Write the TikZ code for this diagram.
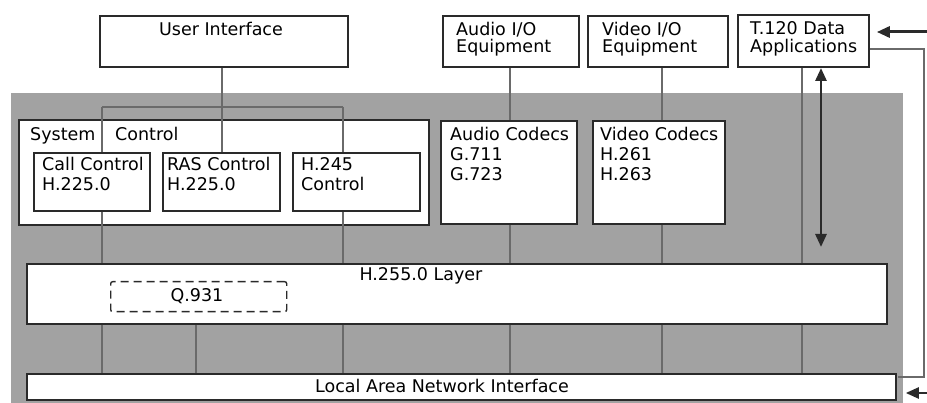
\documentclass[tikz,border=0pt]{standalone}
\usepackage{fontspec}
\setmainfont{DejaVu Sans}
\usetikzlibrary{arrows.meta}
\definecolor{bgray}{HTML}{A2A2A2}
\definecolor{edge}{HTML}{2A2A2A}
\definecolor{wire}{HTML}{6A6A6A}
\tikzset{
  x=1pt, y=-1pt,
  box/.style={draw=edge, line width=1.8pt, fill=white, inner sep=0pt, anchor=north west},
  dbox/.style={draw=edge, line width=1.4pt, dash pattern=on 8pt off 5pt, rounded corners=2pt, fill=white, inner sep=0pt, anchor=north west},
  txt/.style={inner sep=0pt, anchor=base west, align=left, font=\fontsize{17.5}{20}\selectfont},
  ctxt/.style={inner sep=0pt, anchor=base, font=\fontsize{17.5}{20}\selectfont},
  wireline/.style={draw=wire, line width=1.6pt},
  bigarrow/.style={draw=edge, line width=3pt, -{Triangle[length=13pt,width=11pt]}},
  dblarrow/.style={draw=edge, line width=2.8pt, {Triangle[length=13pt,width=11pt]}-{Triangle[length=13pt,width=11pt]}},
}
\newcommand{\boxat}[5]{\node[box, minimum width=#3-#1, minimum height=#4-#2] (#5) at (#1,#2) {};}
\begin{document}
\begin{tikzpicture}
\useasboundingbox (0,0) rectangle (927,403);
% shaded region
\node[fill=bgray, inner sep=0pt, anchor=north west, minimum width=892, minimum height=310] (shade) at (11,93) {};
% boxes
\boxat{99}{15}{347}{66}{ui}
\boxat{442}{15}{578}{66}{aio}
\boxat{587}{15}{727}{66}{vio}
\boxat{737}{14}{868}{66}{tdata}
\boxat{18}{119}{428}{224}{sys}
\boxat{33}{152}{149}{210}{call}
\boxat{162}{152}{279}{210}{ras}
\boxat{292}{152}{419}{210}{hctl}
\boxat{440}{120}{576}{223}{acod}
\boxat{592}{120}{724}{223}{vcod}
\boxat{26}{263}{886}{323}{layer}
\boxat{26}{373}{895}{399}{lan}
\node[dbox, minimum width=176, minimum height=30] (q) at (110,281) {};
% x positions of wires
\coordinate (xa) at (102,0);
\coordinate (xb) at (222,0);
\coordinate (xc) at (343,0);
\coordinate (xd) at (196,0);
\coordinate (xe) at (510,0);
\coordinate (xf) at (662,0);
\coordinate (xg) at (802,0);
\coordinate (bus) at (222,107);
\coordinate (busl) at (102,107);
\coordinate (busr) at (343,107);
\coordinate (dhi) at (821,68);
\coordinate (dlo) at (821,247);
\coordinate (rin) at (927,32);
\coordinate (rin2) at (927,393);
\coordinate (ret1) at (924,49);
\coordinate (ret2) at (924,377);
\coordinate (ret3) at (898,377);
% wires
\draw[wireline] (ui.south -| xb) -- (bus);
\draw[wireline] (busl) -- (busr);
\draw[wireline] (busl) -- (call.north -| xa);
\draw[wireline] (bus) -- (ras.north -| xb);
\draw[wireline] (busr) -- (hctl.north -| xc);
\draw[wireline] (call.south -| xa) -- (layer.north -| xa);
\draw[wireline] (hctl.south -| xc) -- (layer.north -| xc);
\draw[wireline] (layer.south -| xa) -- (lan.north -| xa);
\draw[wireline] (layer.south -| xd) -- (lan.north -| xd);
\draw[wireline] (layer.south -| xc) -- (lan.north -| xc);
\draw[wireline] (aio.south -| xe) -- (acod.north -| xe);
\draw[wireline] (acod.south -| xe) -- (layer.north -| xe);
\draw[wireline] (layer.south -| xe) -- (lan.north -| xe);
\draw[wireline] (vio.south -| xf) -- (vcod.north -| xf);
\draw[wireline] (vcod.south -| xf) -- (layer.north -| xf);
\draw[wireline] (layer.south -| xf) -- (lan.north -| xf);
\draw[wireline] (tdata.south -| xg) -- (layer.north -| xg);
\draw[wireline] (layer.south -| xg) -- (lan.north -| xg);
\draw[wireline] (tdata.east |- ret1) -- (ret1) -- (ret2) -- (ret3);
% arrows
\draw[dblarrow] (dhi) -- (dlo);
\draw[bigarrow] (rin) -- ([xshift=7pt]tdata.east |- rin);
\draw[bigarrow, line width=2.4pt] (rin2) -- ([xshift=9pt]lan.east |- rin2);
% texts (base = baseline of last line)
\node[ctxt] (tui) at (221,36) {User Interface};
\node[txt] (taio) at (456,53) {Audio I/O\\[-3pt]Equipment};
\node[txt] (tvio) at (602,53) {Video I/O\\[-3pt]Equipment};
\node[txt] (ttd) at (750,53) {T.120 Data\\[-2pt]Applications};
\node[txt] (tsys) at (30,141) {System};
\node[txt] (tctl) at (115,141) {Control};
\node[txt] (tcall) at (42,191) {Call Control\\H.225.0};
\node[txt] (tras) at (167,191) {RAS Control\\H.225.0};
\node[txt] (thctl) at (301,191) {H.245\\Control};
\node[txt] (tacod) at (450,181) {Audio Codecs\\G.711\\G.723};
\node[txt] (tvcod) at (600,181) {Video Codecs\\H.261\\H.263};
\node[ctxt] (tlayer) at (421,281) {H.255.0 Layer};
\node[ctxt] (tq) at (197,302) {Q.931};
\node[ctxt] (tlan) at (442,392) {Local Area Network Interface};
\end{tikzpicture}
\end{document}
